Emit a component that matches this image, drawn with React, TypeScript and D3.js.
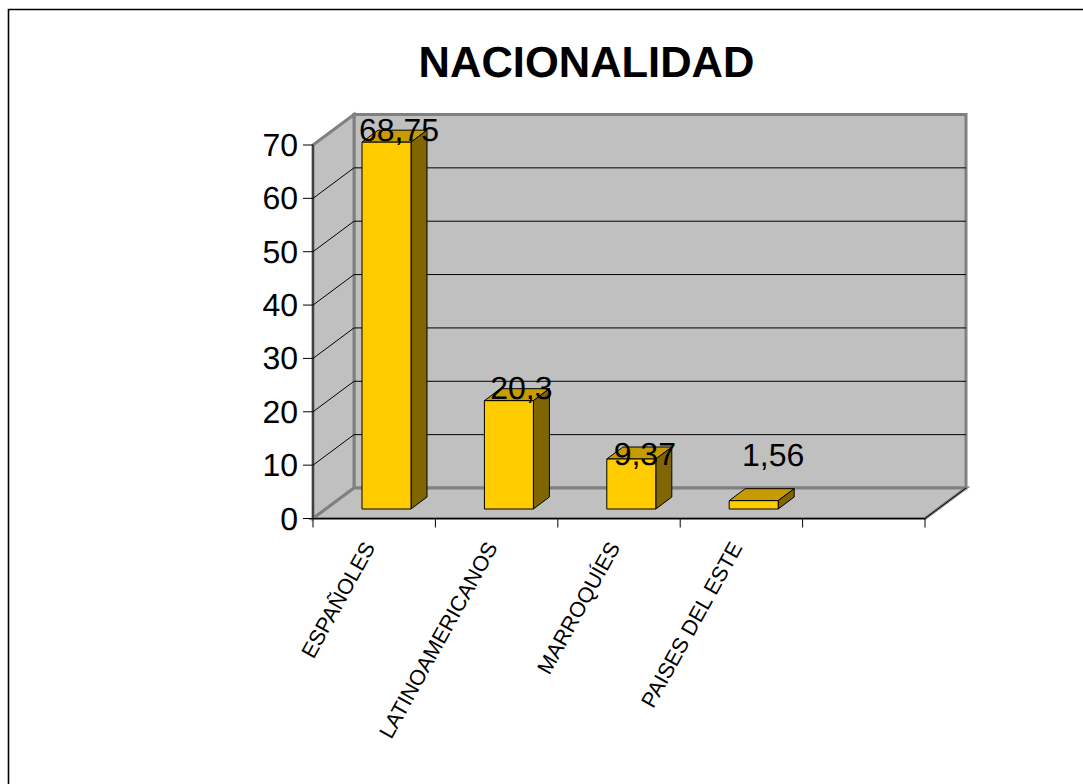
import * as d3 from "d3";

const categories = ["ESPAÑOLES", "LATINOAMERICANOS", "MARROQUÍES", "PAISES DEL ESTE", ""];
const values = [68.75, 20.3, 9.37, 1.56];
const valueLabels = ["68,75", "20,3", "9,37", "1,56"];
const yTicks = [0, 10, 20, 30, 40, 50, 60, 70];

const width = 1083;
const height = 784;
const depthX = 41;
const depthY = 30.5;
const barDepthX = 16;
const barDepthY = 12;
const font = "Liberation Sans, Arial, sans-serif";

const xScale = d3.scaleBand<string>().domain(categories.map((c, i) => i + c)).range([313, 925]).paddingInner(0).paddingOuter(0);
const yScale = d3.scaleLinear().domain([0, 70]).range([518.5, 145]);

const poly = (pts: [number, number][]) => d3.line()(pts) + "Z";

// label nudges, the small bars push their labels down/right
const labelDx = [37, 37, 38, 44];
const labelDy = [-1, -2, 6, -35];

export default function App() {
  const x0 = xScale.range()[0];
  const x1 = xScale.range()[1];
  const y0 = yScale(0);
  const yTop = yScale(70);
  const band = xScale.bandwidth();
  const barW = 49;
  const barOffset = 49;
  const barLift = 9.5;

  return (
    <svg
      width={width}
      height={height}
      viewBox={`0 0 ${width} ${height}`}
      style={{ position: "absolute", left: 0, top: 0, background: "#fff" }}
      fontFamily={font}
      textRendering="geometricPrecision"
    >
      {/* frame */}
      <path d={`M8.5,${height}V9.5H${width}`} fill="none" stroke="#000" strokeWidth={1.6} />

      <text x={586.5} y={77} fontSize={43.5} fontWeight="bold" textAnchor="middle">
        NACIONALIDAD
      </text>

      {/* back wall, side wall and floor */}
      <path
        d={poly([[x0 + depthX, yTop - depthY], [x1 + depthX, yTop - depthY], [x1 + depthX, y0 - depthY], [x0 + depthX, y0 - depthY]])}
        fill="#c0c0c0"
        stroke="#808080"
        strokeWidth={3}
      />
      <path
        d={poly([[x0, yTop], [x0 + depthX, yTop - depthY], [x0 + depthX, y0 - depthY], [x0, y0]])}
        fill="#c0c0c0"
        stroke="#808080"
        strokeWidth={3}
      />
      <path
        d={poly([[x0, y0], [x0 + depthX, y0 - depthY], [x1 + depthX, y0 - depthY], [x1, y0]])}
        fill="#c0c0c0"
        stroke="#808080"
        strokeWidth={3}
      />

      {/* gridlines */}
      {yTicks.slice(1, -1).map((t) => (
        <path
          key={t}
          d={`M${x0},${yScale(t)}L${x0 + depthX},${yScale(t) - depthY}H${x1 + depthX}`}
          fill="none"
          stroke="#000"
          strokeWidth={1}
        />
      ))}
      <path d={`M${x1},${y0}L${x1 + depthX},${y0 - depthY}`} stroke="#000" strokeWidth={1} />

      {/* axes */}
      <path d={`M${x0},${yTop}V${y0}H${x1}`} fill="none" stroke="#000" strokeWidth={1} />
      {yTicks.map((t) => (
        <g key={t}>
          <line x1={x0 - 10} x2={x0} y1={yScale(t)} y2={yScale(t)} stroke="#000" />
          <text x={x0 - 15} y={yScale(t) + 11} fontSize={32} textAnchor="end">
            {t}
          </text>
        </g>
      ))}
      {d3.range(categories.length + 1).map((i) => (
        <line key={i} x1={x0 + i * band} x2={x0 + i * band} y1={y0} y2={y0 + 9} stroke="#000" />
      ))}

      {/* bars */}
      {values.map((v, i) => {
        const left = xScale(i + categories[i])! + barOffset;
        const right = left + barW;
        const bottom = y0 - barLift;
        const top = bottom - (y0 - yScale(v));
        return (
          <g key={i} stroke="#000" strokeWidth={1} strokeLinejoin="round">
            <path d={poly([[left, top], [left + barDepthX, top - barDepthY], [right + barDepthX, top - barDepthY], [right, top]])} fill="#c69c00" />
            <path d={poly([[right, top], [right + barDepthX, top - barDepthY], [right + barDepthX, bottom - barDepthY], [right, bottom]])} fill="#806600" />
            <path d={poly([[left, top], [right, top], [right, bottom], [left, bottom]])} fill="#ffcc00" />
          </g>
        );
      })}

      {/* value labels */}
      {values.map((v, i) => {
        const left = xScale(i + categories[i])! + barOffset;
        const top = y0 - barLift - (y0 - yScale(v));
        return (
          <text key={i} x={left + labelDx[i]} y={top + labelDy[i]} fontSize={32} textAnchor="middle">
            {valueLabels[i]}
          </text>
        );
      })}

      {/* category labels */}
      {categories.map((c, i) => {
        const cx = xScale(i + c)! + band / 2;
        return (
          <text
            key={i}
            transform={`translate(${cx - 5},${y0 + 25}) rotate(-61)`}
            fontSize={21.5}
            textAnchor="end"
            dy="0.35em"
          >
            {c}
          </text>
        );
      })}
    </svg>
  );
}
